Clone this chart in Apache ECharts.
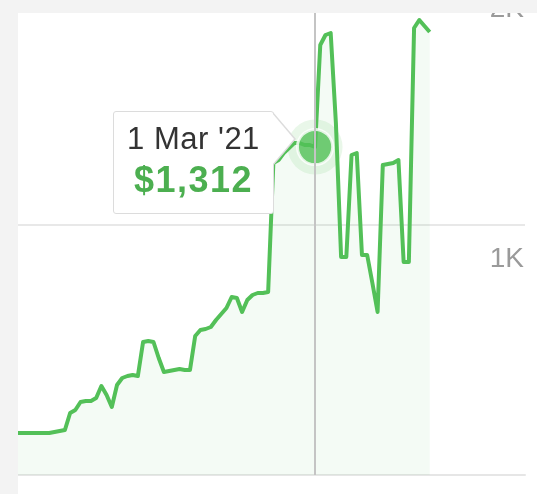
<!DOCTYPE html>
<html>
<head>
<meta charset="utf-8">
<script src="https://cdn.jsdelivr.net/npm/echarts@6/dist/echarts.min.js"></script>
<style>
  html, body { margin: 0; padding: 0; background: #f3f3f3; overflow: hidden; }
  #main { position: absolute; left: 18px; top: -25px; width: 519px; height: 519px; background: #fff; overflow: hidden; }
  #topband { position: absolute; left: 0; top: 0; width: 537px; height: 13px; background: #f3f3f3; z-index: 50; }
</style>
</head>
<body>
<div id="main"></div>
<div id="topband"></div>
<script>
// weekly values, first week starts on 27 Jan 2020
var startDate = '2020-01-27';
var axisEnd = '2021-12-08';
var values = [
  168, 168, 168, 168, 168, 168, 168, 172, 176, 180,
  248, 260, 292, 296, 296, 308, 356, 320, 272, 360,
  388, 396, 400, 396, 532, 536, 532, 468, 412, 416,
  420, 424, 420, 420, 556, 580, 584, 592, 620, 644,
  668, 712, 708, 652, 700, 720, 728, 728, 732, 1248,
  1260, 1288, 1308, 1328, 1328, 1320, 1320, 1312, 1720, 1760,
  1768, 1408, 872, 872, 1280, 1288, 880, 880, 768, 652,
  1240, 1244, 1248, 1260, 852, 852, 1788, 1820, 1796, 1772
];
var yTicks = [0, 1000, 2000];
var yTickLabels = ['', '1K', '2K'];
var focusDate = '2021-03-01';

var months = ['Jan', 'Feb', 'Mar', 'Apr', 'May', 'Jun', 'Jul', 'Aug', 'Sep', 'Oct', 'Nov', 'Dec'];

// build the week dates
var dates = [];
var d0 = new Date(startDate + 'T00:00:00');
for (var i = 0; i < values.length; i++) {
  var d = new Date(d0.getTime());
  d.setDate(d0.getDate() + 7 * i);
  dates.push(d.getFullYear() + '-' + ('0' + (d.getMonth() + 1)).slice(-2) + '-' + ('0' + d.getDate()).slice(-2));
}
var seriesData = dates.map(function(dt, i) { return [dt, values[i]]; });
var focusIndex = dates.indexOf(focusDate);

function fmtDate(s) {
  var p = s.split('-');
  return parseInt(p[2], 10) + ' ' + months[parseInt(p[1], 10) - 1] + " '" + p[0].slice(2);
}
function fmtMoney(v) {
  return '$' + v.toString().replace(/\B(?=(\d{3})+(?!\d))/g, ',');
}

var green = '#4caf50';
var myChart = echarts.init(document.getElementById('main'));

var option = {
  animation: false,
  grid: { left: 0, right: 12, top: 0, bottom: 19, containLabel: false },
  tooltip: {
    trigger: 'axis',
    alwaysShowContent: true,
    backgroundColor: '#fff',
    borderColor: '#dcdcdc',
    borderWidth: 1,
    borderRadius: 3,
    padding: 0,
    extraCssText: 'box-shadow:none;overflow:visible;',
    axisPointer: {
      type: 'line',
      lineStyle: { color: '#c4c4c4', width: 2, type: 'solid' }
    },
    position: function() { return [95, 136]; },
    formatter: function(params) {
      var p = params[0];
      return '<div style="position:relative;width:159px;height:101px;text-align:center;font-family:Liberation Sans, Arial, sans-serif;">' +
        '<div style="position:absolute;left:159px;top:0px;width:0;height:0;border-left:23px solid #dcdcdc;border-top:27px solid transparent;border-bottom:27px solid transparent;"></div>' +
        '<div style="position:absolute;left:158px;top:1px;width:0;height:0;border-left:22px solid #fff;border-top:26px solid transparent;border-bottom:26px solid transparent;"></div>' +
        '<div style="padding-top:9px;font-size:31px;letter-spacing:0.5px;line-height:36px;color:#333;">' + fmtDate(p.value[0]) + '</div>' +
        '<div style="margin-top:3px;font-size:36px;letter-spacing:1.5px;line-height:40px;font-weight:bold;color:' + green + ';">' + fmtMoney(p.value[1]) + '</div>' +
        '</div>';
    }
  },
  xAxis: {
    type: 'time',
    min: startDate,
    max: axisEnd,
    axisLine: { show: true, lineStyle: { color: '#e6e6e6', width: 2 } },
    axisTick: { show: false },
    axisLabel: { show: false },
    splitLine: { show: false }
  },
  yAxis: {
    type: 'value',
    position: 'right',
    min: yTicks[0],
    max: yTicks[yTicks.length - 1],
    interval: yTicks[1] - yTicks[0],
    axisLine: { show: false },
    axisTick: { show: false },
    splitLine: { show: true, lineStyle: { color: '#e8e8e8', width: 2 } },
    axisLabel: {
      inside: true,
      margin: 1,
      color: '#9a9a9a',
      fontSize: 28,
      fontFamily: 'Liberation Sans, Arial, sans-serif',
      verticalAlign: 'top',
      padding: [20, 0, 0, 0],
      formatter: function(v) { return yTickLabels[yTicks.indexOf(v)]; }
    }
  },
  series: [
    {
      type: 'line',
      data: seriesData,
      symbol: 'none',
      lineStyle: { color: green, width: 4, join: 'round' },
      areaStyle: { color: 'rgba(76,175,80,0.09)' },
      z: 2
    },
    {
      type: 'scatter',
      data: [seriesData[focusIndex]],
      symbolSize: 50,
      itemStyle: { color: 'rgba(76,175,80,0.16)' },
      silent: true,
      z: 3
    },
    {
      type: 'scatter',
      data: [seriesData[focusIndex]],
      symbolSize: 32,
      itemStyle: { color: green, borderColor: '#fff', borderWidth: 3 },
      silent: true,
      z: 4
    }
  ]
};

myChart.setOption(option);
myChart.dispatchAction({ type: 'showTip', seriesIndex: 0, dataIndex: focusIndex });
</script>
</body>
</html>
